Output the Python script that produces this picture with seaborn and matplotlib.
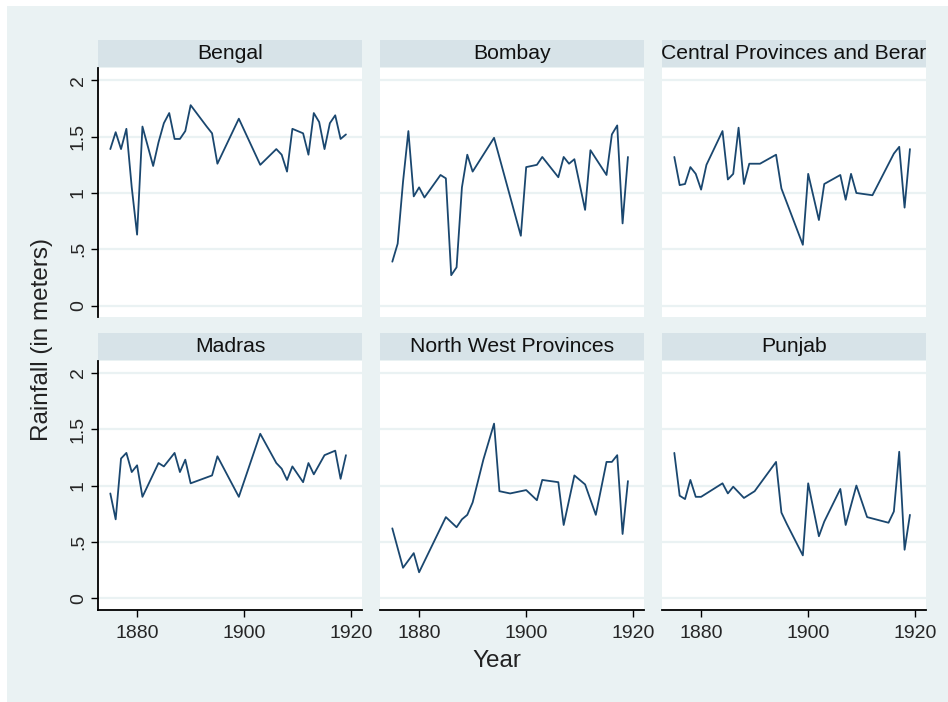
import seaborn as sns
import matplotlib.pyplot as plt
import matplotlib.patches as mpatches
import pandas as pd

# Data (rainfall in meters, by province)
provinces = ["Bengal", "Bombay", "Central Provinces and Berar",
             "Madras", "North West Provinces", "Punjab"]

bengal_years = [1875, 1876, 1877, 1878, 1879, 1880, 1881, 1883, 1884, 1885, 1886,
                1887, 1888, 1889, 1890, 1893, 1894, 1895, 1899, 1903, 1906, 1907,
                1908, 1909, 1911, 1912, 1913, 1914, 1915, 1916, 1917, 1918, 1919]
bengal_rain = [1.39, 1.54, 1.39, 1.57, 1.05, 0.63, 1.59, 1.24, 1.45, 1.62, 1.71,
               1.48, 1.48, 1.55, 1.78, 1.59, 1.53, 1.26, 1.66, 1.25, 1.39, 1.34,
               1.19, 1.57, 1.53, 1.34, 1.71, 1.63, 1.39, 1.62, 1.69, 1.48, 1.52]

bombay_years = [1875, 1876, 1877, 1878, 1879, 1880, 1881, 1884, 1885, 1886, 1887,
                1888, 1889, 1890, 1894, 1899, 1900, 1902, 1903, 1906, 1907, 1908,
                1909, 1911, 1912, 1915, 1916, 1917, 1918, 1919]
bombay_rain = [0.39, 0.55, 1.10, 1.55, 0.97, 1.05, 0.96, 1.16, 1.13, 0.27, 0.34,
               1.05, 1.34, 1.19, 1.49, 0.62, 1.23, 1.25, 1.32, 1.14, 1.32, 1.26,
               1.30, 0.85, 1.38, 1.16, 1.52, 1.60, 0.73, 1.32]

cp_years = [1875, 1876, 1877, 1878, 1879, 1880, 1881, 1884, 1885, 1886, 1887,
            1888, 1889, 1891, 1894, 1895, 1899, 1900, 1902, 1903, 1906, 1907,
            1908, 1909, 1912, 1916, 1917, 1918, 1919]
cp_rain = [1.32, 1.07, 1.08, 1.23, 1.17, 1.03, 1.25, 1.55, 1.12, 1.17, 1.58,
           1.08, 1.26, 1.26, 1.34, 1.04, 0.54, 1.17, 0.76, 1.08, 1.16, 0.94,
           1.17, 1.00, 0.98, 1.35, 1.41, 0.87, 1.39]

madras_years = [1875, 1876, 1877, 1878, 1879, 1880, 1881, 1884, 1885, 1887, 1888,
                1889, 1890, 1894, 1895, 1899, 1903, 1906, 1907, 1908, 1909, 1911,
                1912, 1913, 1915, 1917, 1918, 1919]
madras_rain = [0.93, 0.70, 1.24, 1.29, 1.12, 1.18, 0.90, 1.20, 1.17, 1.29, 1.12,
               1.23, 1.02, 1.09, 1.26, 0.90, 1.46, 1.20, 1.15, 1.05, 1.17, 1.03,
               1.20, 1.10, 1.27, 1.31, 1.06, 1.27]

nwp_years = [1875, 1877, 1879, 1880, 1885, 1887, 1888, 1889, 1890, 1892, 1894,
             1895, 1897, 1900, 1902, 1903, 1906, 1907, 1909, 1911, 1913, 1915,
             1916, 1917, 1918, 1919]
nwp_rain = [0.62, 0.27, 0.40, 0.23, 0.72, 0.63, 0.70, 0.74, 0.85, 1.23, 1.55,
            0.95, 0.93, 0.96, 0.87, 1.05, 1.03, 0.65, 1.09, 1.01, 0.74, 1.21,
            1.21, 1.27, 0.57, 1.04]

punjab_years = [1875, 1876, 1877, 1878, 1879, 1880, 1884, 1885, 1886, 1888, 1890,
                1894, 1895, 1896, 1899, 1900, 1902, 1903, 1906, 1907, 1909, 1911,
                1915, 1916, 1917, 1918, 1919]
punjab_rain = [1.29, 0.91, 0.88, 1.05, 0.90, 0.90, 1.02, 0.93, 0.99, 0.89, 0.95,
               1.21, 0.76, 0.66, 0.38, 1.02, 0.55, 0.68, 0.97, 0.65, 1.00, 0.72,
               0.67, 0.77, 1.30, 0.43, 0.74]

ytick_vals = [0, 0.5, 1, 1.5, 2]
ytick_labels = ["0", ".5", "1", "1.5", "2"]
xtick_vals = [1880, 1900, 1920]

series = [(bengal_years, bengal_rain), (bombay_years, bombay_rain),
          (cp_years, cp_rain), (madras_years, madras_rain),
          (nwp_years, nwp_rain), (punjab_years, punjab_rain)]
df = pd.concat([pd.DataFrame({"year": yrs, "rain": rn, "province": p})
                for p, (yrs, rn) in zip(provinces, series)], ignore_index=True)

# Stata s2color look
bg = "#EAF2F3"
strip_col = "#D7E3E8"
navy = "#1A476F"

sns.set_theme(style="white")
plt.rcParams['font.family'] = ['Liberation Sans', 'DejaVu Sans']

g = sns.relplot(data=df, x="year", y="rain", col="province", col_wrap=3,
                col_order=provinces, kind="line", estimator=None,
                color=navy, linewidth=1.3, height=2.5, aspect=1.0,
                facet_kws={"sharex": True, "sharey": True})
fig = g.figure
fig.set_size_inches(9.48, 7.02)
fig.patch.set_facecolor("white")
fig.add_artist(mpatches.Rectangle((7 / 948, 0), 1, 1 - 6 / 702,
                                  transform=fig.transFigure,
                                  facecolor=bg, edgecolor="none", zorder=-10))

fig.subplots_adjust(left=98 / 948, right=926 / 948, top=1 - 68 / 702,
                    bottom=1 - 610 / 702, wspace=18 / 264, hspace=0.173)

g.set_titles("")
g.set_axis_labels("", "")

for i, (ax, name) in enumerate(zip(g.axes.flat, provinces)):
    col = i % 3
    row = i // 3
    ax.set_facecolor("white")
    ax.set_xlim(1872.7, 1922)
    ax.set_ylim(-0.105, 2.11)
    ax.set_yticks(ytick_vals)
    ax.set_xticks(xtick_vals)
    for y in ytick_vals:
        ax.axhline(y, color=bg, lw=1.6, zorder=0)
    for s in ax.spines.values():
        s.set_visible(False)

    if col == 0:
        ax.spines["left"].set_visible(True)
        ax.spines["left"].set_color("black")
        ax.spines["left"].set_linewidth(1.3)
        ax.set_yticklabels(ytick_labels, rotation=90, va="center", size=14)
        ax.tick_params(axis="y", left=True, length=5, width=1, color="black", pad=3)
    else:
        ax.tick_params(axis="y", left=False, labelleft=False)

    if row == 1:
        ax.spines["bottom"].set_visible(True)
        ax.spines["bottom"].set_color("black")
        ax.spines["bottom"].set_linewidth(1.3)
        ax.set_xticklabels([str(v) for v in xtick_vals], size=14)
        ax.tick_params(axis="x", bottom=True, length=5, width=1, color="black", pad=6)
    else:
        ax.tick_params(axis="x", bottom=False, labelbottom=False)

    # Stata-like strip above each panel
    h = 27 / 249.4
    ax.add_patch(mpatches.Rectangle((0, 1.004), 1, h, transform=ax.transAxes,
                                    facecolor=strip_col, edgecolor="none",
                                    clip_on=False))
    ax.text(0.5, 1.004 + h / 2, name, transform=ax.transAxes, ha="center",
            va="center", size=15.2, color="#111111")

fig.text(42 / 948, 1 - 339 / 702, "Rainfall (in meters)", rotation=90,
         ha="center", va="center", size=17.5, color="#222222")
fig.text(497 / 948, 1 - 661 / 702, "Year", ha="center", va="center",
         size=17.5, color="#222222")

plt.savefig("out.png", dpi=100)
